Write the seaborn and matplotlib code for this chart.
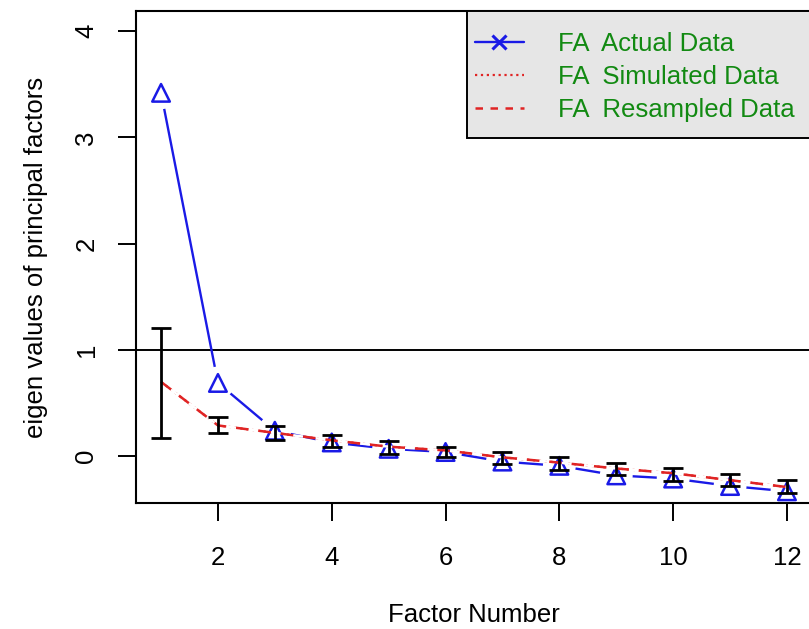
import numpy as np
import pandas as pd
import seaborn as sns
import matplotlib.pyplot as plt
from matplotlib.lines import Line2D
from matplotlib.patches import Rectangle

# values
factors = list(range(1, 13))
actual = [3.42, 0.69, 0.24, 0.13, 0.07, 0.04, -0.05, -0.09, -0.18, -0.21, -0.28, -0.33]
simulated = [0.70, 0.29, 0.22, 0.15, 0.09, 0.055, -0.01, -0.06, -0.115, -0.16, -0.225, -0.29]
resampled = [0.70, 0.29, 0.22, 0.15, 0.09, 0.055, -0.01, -0.06, -0.115, -0.16, -0.225, -0.29]
err_low = [0.17, 0.22, 0.15, 0.09, 0.02, -0.01, -0.07, -0.13, -0.18, -0.23, -0.28, -0.35]
err_high = [1.21, 0.37, 0.28, 0.20, 0.14, 0.085, 0.04, -0.01, -0.06, -0.115, -0.17, -0.225]
legend_labels = ['FA  Actual Data', 'FA  Simulated Data', 'FA  Resampled Data']

df = pd.DataFrame({'factor': factors, 'actual': actual,
                   'simulated': simulated, 'resampled': resampled})

sns.set_style('white')
plt.rcParams['font.family'] = ['Liberation Sans', 'DejaVu Sans']
plt.rcParams['text.color'] = 'black'
plt.rcParams['axes.labelcolor'] = 'black'
plt.rcParams['xtick.color'] = 'black'
plt.rcParams['ytick.color'] = 'black'

BLUE = '#1a1ae6'
RED = '#e02424'

fig = plt.figure(figsize=(8.09, 6.29), dpi=100)
ax = fig.add_axes([136 / 809, 1 - 503 / 629, (812 - 136) / 809, (503 - 11) / 629])

# actual data: line with gaps around the points (R type="b")
sns.lineplot(x='factor', y='actual', data=df, color=BLUE, linewidth=1.7,
             estimator=None, ax=ax, zorder=2)
sns.scatterplot(x='factor', y='actual', data=df, s=560, color='white',
                edgecolor='none', ax=ax, zorder=2.2)
sns.scatterplot(x='factor', y='actual', data=df, marker='^', s=160,
                facecolor='none', edgecolor=BLUE, linewidth=1.8, ax=ax, zorder=3)

# simulated / resampled
sns.lineplot(x='factor', y='simulated', data=df, color=RED, linewidth=1.6,
             linestyle=':', estimator=None, ax=ax, zorder=3.1)
sns.lineplot(x='factor', y='resampled', data=df, color=RED, linewidth=1.8,
             linestyle=(0, (5, 4)), estimator=None, ax=ax, zorder=3.2)
ax.get_lines()[-1].set_gapcolor('white')

low = np.array(err_low)
high = np.array(err_high)
mid = (low + high) / 2
ax.errorbar(factors, mid, yerr=[mid - low, high - mid], fmt='none', ecolor='black',
            elinewidth=2.0, capsize=7, capthick=2.0, zorder=3.4)

ax.axhline(1, color='black', linewidth=1.4, zorder=1.5)

ax.set_xlim(0.56, 12.44)
ax.set_ylim(-0.44, 4.19)
ax.set_xticks([2, 4, 6, 8, 10, 12])
ax.set_yticks([0, 1, 2, 3, 4])
ax.tick_params(direction='out', length=13, width=1.4, labelsize=18.5,
               left=True, bottom=True)
ax.tick_params(axis='x', pad=18)
ax.tick_params(axis='y', pad=14)
for lab in ax.get_yticklabels():
    lab.set_rotation(90)
    lab.set_va('center')
for sp in ax.spines.values():
    sp.set_color('black')
    sp.set_linewidth(1.5)

ax.set_xlabel('Factor Number', fontsize=18.5, labelpad=24)
ax.set_ylabel('eigen values of principal factors', fontsize=18.5, labelpad=19)

# legend box (R style: grey fill, square black border)
box_x = (467 - 136) / 676
box_y = (503 - 138) / 492
ax.add_patch(Rectangle((box_x, box_y), 1.05 - box_x, 1 - box_y, transform=ax.transAxes,
                       facecolor='#e6e6e6', edgecolor='black', linewidth=1.4,
                       clip_on=False, zorder=4))

handles = [
    Line2D([], [], color=BLUE, linewidth=1.7, marker='x', markersize=10, markeredgewidth=2.2),
    Line2D([], [], color=RED, linewidth=1.6, linestyle=':'),
    Line2D([], [], color=RED, linewidth=1.8, linestyle=(0, (3, 3))),
]
leg = ax.legend(handles, legend_labels, loc='upper left',
                bbox_to_anchor=(box_x, 1 - 13 / 492), borderaxespad=0,
                fontsize=18.5, labelcolor='#128a12', frameon=False,
                handlelength=1.9, handletextpad=1.35, labelspacing=0.36, borderpad=0.3)
leg.set_zorder(5)

fig.savefig('out.png', dpi=100)
